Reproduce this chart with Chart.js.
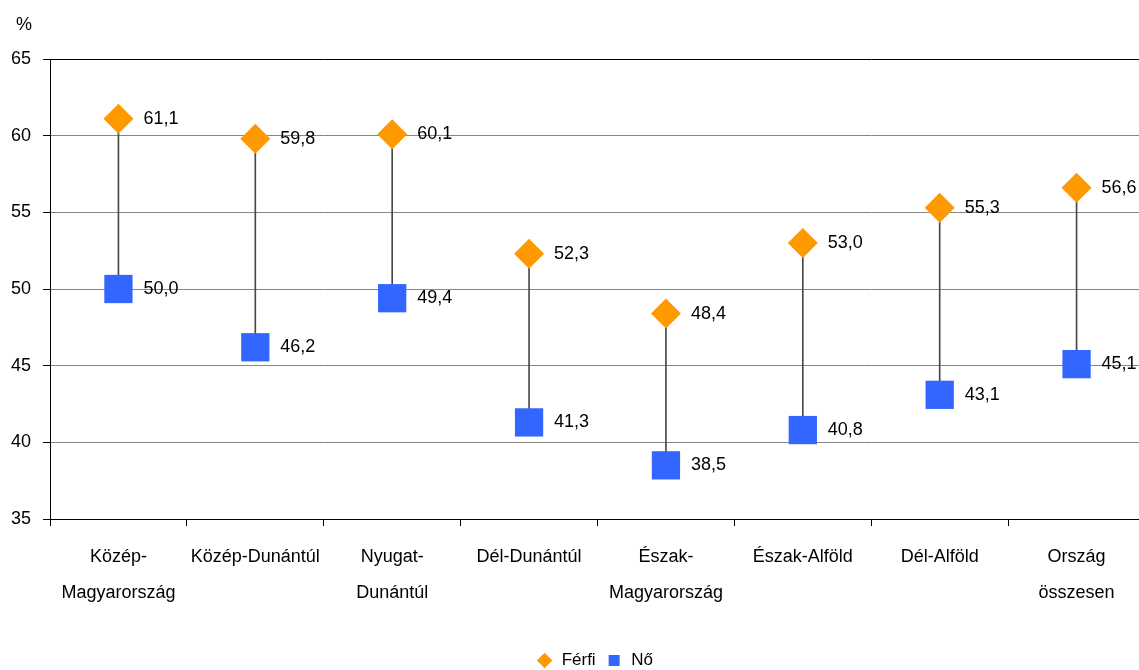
<!DOCTYPE html>
<html>
<head>
<meta charset="utf-8">
<script src="https://cdn.jsdelivr.net/npm/chart.js@4/dist/chart.umd.min.js"></script>
<style>
  html, body { margin: 0; padding: 0; background: #fff; overflow: hidden; }
  #wrap { width: 1146px; height: 670px; }
</style>
</head>
<body>
<div id="wrap"><canvas id="chart"></canvas></div>
<script>
// regions and values
const regions = [
  ["Közép-", "Magyarország"],
  "Közép-Dunántúl",
  ["Nyugat-", "Dunántúl"],
  "Dél-Dunántúl",
  ["Észak-", "Magyarország"],
  "Észak-Alföld",
  "Dél-Alföld",
  ["Ország", "összesen"]
];
const ferfi = [61.1, 59.8, 60.1, 52.3, 48.4, 53.0, 55.3, 56.6];
const no = [50.0, 46.2, 49.4, 41.3, 38.5, 40.8, 43.1, 45.1];
const yTicks = [35, 40, 45, 50, 55, 60, 65];

const FONT = "'Liberation Sans', Arial, sans-serif";

// values written next to the markers
const valueLabels = {
  id: "valueLabels",
  afterDatasetsDraw(chart) {
    const ctx = chart.ctx;
    ctx.save();
    ctx.font = "18px " + FONT;
    ctx.fillStyle = "#000";
    ctx.textAlign = "left";
    ctx.textBaseline = "middle";
    [0, 1].forEach(function(i) {
      const meta = chart.getDatasetMeta(i);
      meta.data.forEach(function(pt, j) {
        const v = chart.data.datasets[i].data[j];
        ctx.fillText(v.toFixed(1).replace(".", ","), pt.x + 25, pt.y);
      });
    });
    // unit above the y axis
    const y = chart.scales.y;
    ctx.textAlign = "center";
    ctx.fillText("%", y.right - 26, y.top - 34);
    ctx.restore();
  }
};

// legend sits a bit right of the canvas centre and lower in the original
const shiftLegend = {
  id: "shiftLegend",
  afterLayout(chart) {
    chart.legend.left += 22;
    chart.legend.right += 22;
    chart.legend.top += 9;
    chart.legend.bottom += 9;
  }
};

document.addEventListener("DOMContentLoaded", function() {
  const ctx = document.getElementById("chart").getContext("2d");
  const dropLines = no.map(function(v, i) { return [v, ferfi[i]]; });

  new Chart(ctx, {
    data: {
      labels: regions,
      datasets: [
        {
          type: "line",
          label: "Férfi",
          data: ferfi,
          showLine: false,
          pointStyle: "rectRot",
          pointRadius: 15,
          pointHoverRadius: 15,
          backgroundColor: "#FF9900",
          borderColor: "#FF9900",
          borderWidth: 0,
          order: 1
        },
        {
          type: "line",
          label: "Nő",
          data: no,
          showLine: false,
          pointStyle: "rect",
          pointRadius: 20,
          pointHoverRadius: 20,
          backgroundColor: "#3366FF",
          borderColor: "#3366FF",
          borderWidth: 0,
          order: 2
        },
        {
          type: "bar",
          label: "drop",
          data: dropLines,
          barThickness: 1,
          backgroundColor: "#484848",
          borderWidth: 0,
          order: 3
        }
      ]
    },
    options: {
      responsive: true,
      maintainAspectRatio: false,
      animation: false,
      layout: { autoPadding: false, padding: { top: 59, right: 1, left: 0, bottom: 0 } },
      plugins: {
        tooltip: { enabled: false },
        legend: {
          position: "bottom",
          labels: {
            usePointStyle: true,
            boxHeight: 11,
            color: "#000",
            font: { family: FONT, size: 17 },
            padding: 10,
            filter: function(item) { return item.text !== "drop"; }
          }
        }
      },
      scales: {
        x: {
          offset: true,
          grid: {
            offset: true,
            drawOnChartArea: false,
            drawTicks: true,
            tickLength: 7,
            color: "#000"
          },
          border: { color: "#000", width: 1 },
          ticks: {
            color: "#000",
            font: { family: FONT, size: 18, lineHeight: 2.0 },
            padding: 13,
            maxRotation: 0,
            autoSkip: false
          },
          afterFit: function(scale) {
            scale.height = 114;
            scale.paddingLeft = 0;
            scale.paddingRight = 0;
          }
        },
        y: {
          min: 35,
          max: 65,
          afterBuildTicks: function(scale) {
            scale.ticks = yTicks.map(function(v) { return { value: v }; });
          },
          grid: {
            color: function(c) { return c.tick && c.tick.value === 65 ? "#000" : "#868686"; },
            tickColor: "#000",
            tickLength: 7
          },
          border: { color: "#000", width: 1 },
          ticks: {
            color: "#000",
            font: { family: FONT, size: 18 },
            padding: 12
          },
          afterFit: function(scale) { scale.width = 50; }
        }
      }
    },
    plugins: [valueLabels, shiftLegend]
  });
});
</script>
</body>
</html>
